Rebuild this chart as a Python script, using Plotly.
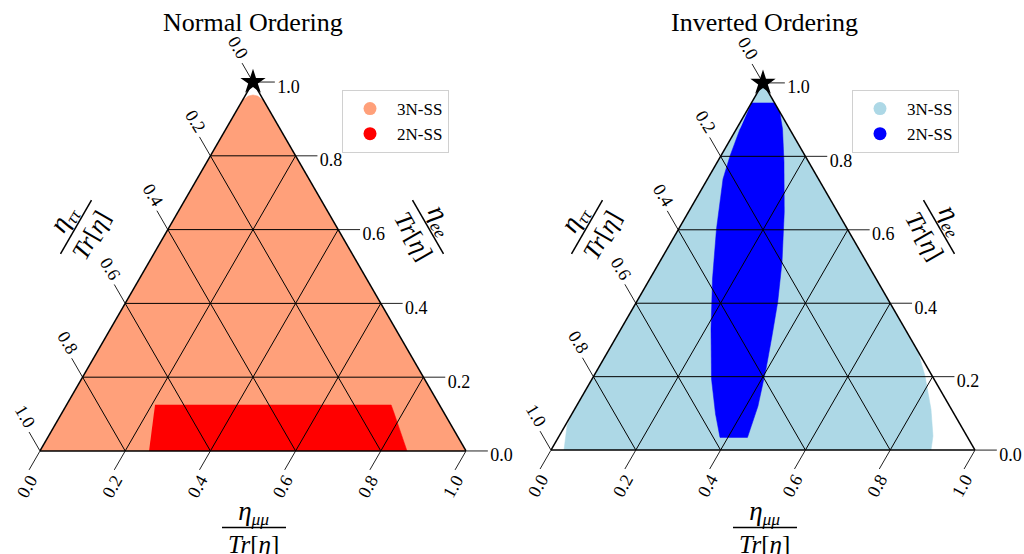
import plotly.graph_objects as go

W, H = 1024, 554
FONT = "Liberation Serif"
NB = "\u00a0"

# ---------------- data (ternary fractions) ----------------
tick_vals = [0.0, 0.2, 0.4, 0.6, 0.8, 1.0]
tick_text = ["1.0", "0.8", "0.6", "0.4", "0.2", "0.0"]
grid_vals = [0.2, 0.4, 0.6, 0.8]

# Normal ordering: eta_ee and eta_mumu fractions of the region boundaries
no_3n_ee = [0.0, 0.0, 0.95, 0.962, 0.965, 0.962, 0.95]
no_3n_mm = [0.0, 1.0, 0.05, 0.030, 0.0175, 0.008, 0.0]
no_2n_ee = [0.0, 0.0, 0.105, 0.1247, 0.1247]
no_2n_mm = [0.256, 0.8615, 0.778, 0.762, 0.2076]

# Inverted ordering
io_3n_ee = [1.0, 0.2698, 0.2016, 0.1117, 0.0381, 0.0, 0.0, 0.0654, 0.1035]
io_3n_mm = [0.0, 0.7302, 0.7813, 0.8403, 0.8818, 0.8962, 0.0307, 0.005, 0.0]
io_2n_ee = [0.9455, 0.9455, 0.921, 0.8747, 0.7847, 0.6485, 0.5123, 0.4033, 0.3106,
            0.2207, 0.1199, 0.0572, 0.0346, 0.0346, 0.0981, 0.1935, 0.3297, 0.466,
            0.6022, 0.7384, 0.8011, 0.8747]
io_2n_mm = [0.0, 0.0545, 0.079, 0.1087, 0.1571, 0.2259, 0.2887, 0.3331, 0.3659,
            0.3967, 0.4282, 0.4414, 0.4461, 0.3813, 0.339, 0.2818, 0.2125, 0.1479,
            0.0892, 0.0365, 0.0217, 0.0085]

star_ee, star_tt, star_mm = [1.0], [0.0], [0.0]

series_names = ["3N-SS", "2N-SS"]
no_colors = ["#FFA07A", "#FF0000"]
io_colors = ["#ADD8E6", "#0000FF"]
titles = ["Normal Ordering", "Inverted Ordering"]


def tau(ee, mm):
    return [max(0.0, round(1.0 - e - m, 4)) for e, m in zip(ee, mm)]


def grid_trace(subplot):
    a, b, c = [], [], []
    for v in grid_vals:
        a += [v, v, None]; b += [1 - v, 0, None]; c += [0, 1 - v, None]
        a += [1 - v, 0, None]; b += [v, v, None]; c += [0, 1 - v, None]
        a += [1 - v, 0, None]; b += [0, 1 - v, None]; c += [v, v, None]
    return go.Scatterternary(a=a, b=b, c=c, mode="lines", subplot=subplot,
                             line=dict(color="black", width=1), showlegend=False,
                             hoverinfo="skip")


def tick_marks(subplot):
    # short marks on each edge, continuing the grid-line direction outwards
    # (standoff pushes the mark opposite to its angle)
    a, b, c, ang = [], [], [], []
    for v in tick_vals:
        # right edge (eta_ee = v): horizontal, to the right
        a.append(v); b.append(0.0); c.append(1.0 - v); ang.append(270)
        # bottom edge (eta_mumu = v): down-left
        a.append(0.0); b.append(1.0 - v); c.append(v); ang.append(30)
        # left edge (eta_tautau = v): up-left
        a.append(1.0 - v); b.append(v); c.append(0.0); ang.append(150)
    return go.Scatterternary(a=a, b=b, c=c, mode="markers", subplot=subplot,
                             marker=dict(symbol="line-ns", size=15.5, angle=ang,
                                         standoff=11, color="#222222",
                                         line=dict(color="#222222", width=1)),
                             cliponaxis=False, showlegend=False, hoverinfo="skip")


def region(ee, mm, color, subplot):
    return go.Scatterternary(a=ee, b=tau(ee, mm), c=mm, mode="lines", fill="toself",
                             fillcolor=color, line=dict(color=color, width=0.5),
                             subplot=subplot, showlegend=False, hoverinfo="skip")


fig = go.Figure()
panels = [
    ("ternary", "legend", [(no_3n_ee, no_3n_mm), (no_2n_ee, no_2n_mm)], no_colors),
    ("ternary2", "legend2", [(io_3n_ee, io_3n_mm), (io_2n_ee, io_2n_mm)], io_colors),
]
for subplot, leg, regs, cols in panels:
    for (ee, mm), col in zip(regs, cols):
        fig.add_trace(region(ee, mm, col, subplot))
    fig.add_trace(grid_trace(subplot))
    fig.add_trace(tick_marks(subplot))
    fig.add_trace(go.Scatterternary(a=star_ee, b=star_tt, c=star_mm, mode="markers",
                                    marker=dict(symbol="star", size=19, color="black"),
                                    cliponaxis=False, subplot=subplot, showlegend=False,
                                    hoverinfo="skip"))
    for name, col in zip(series_names, cols):
        fig.add_trace(go.Scatterternary(a=[None], b=[None], c=[None], mode="markers",
                                        marker=dict(color=col, size=13, symbol="circle"),
                                        name=name, subplot=subplot, legend=leg))


def axis(angle, ticklen, texts):
    return dict(min=0, tickmode="array", tickvals=tick_vals, ticktext=texts,
                ticks="outside", ticklen=ticklen, tickwidth=1,
                tickcolor="rgba(0,0,0,0)",
                showline=True, linecolor="black", linewidth=1.5, showgrid=False,
                layer="above traces", tickangle=angle,
                tickfont=dict(family=FONT, size=18, color="black"),
                title=dict(text=""))


a_text = [t + NB * 4 + "<br>" + NB for t in tick_text]
b_text = [t + NB * 2 + "<br>" + NB for t in tick_text]
c_text = [NB + "<br>" + NB * 4 + t for t in tick_text]


def px(x):
    return x / W


def py(y):
    return 1 - y / H


def tern(x0, x1):
    return dict(domain=dict(x=[px(x0), px(x1)], y=[py(451), py(82)]), sum=1,
                bgcolor="white",
                aaxis=axis(59, 4, a_text),
                baxis=axis(-61, 9, b_text),
                caxis=axis(0, 6, c_text))


ETA = "<span style='font-size:27px'><i>η</i></span>"
annotations = []
shapes = []
num_den = [
    (ETA + "<sub><i>μμ</i></sub>", 253, 527, 0, (222, 527.5, 286, 527.5)),
    (ETA + "<sub><i>ττ</i></sub>", 76, 227, -60, (60.5, 253.8, 91.5, 200.2)),
    (ETA + "<sub><i>ee</i></sub>", 428, 227, 60, (412.5, 200.2, 443.5, 253.8)),
]
for k, off in enumerate([0, 511]):
    annotations.append(dict(text=titles[k], x=px(253 + off), y=py(22), xref="paper",
                            yref="paper", showarrow=False, xanchor="center",
                            yanchor="middle",
                            font=dict(family=FONT, size=26, color="black")))
    for num, cx, cy, ang, (x0, y0, x1, y1) in num_den:
        annotations.append(dict(text=num + "<br><i>Tr</i>[<i>η</i>]", x=px(cx + off),
                                y=py(cy), xref="paper", yref="paper", showarrow=False,
                                textangle=ang, xanchor="center", yanchor="middle",
                                font=dict(family=FONT, size=25, color="black")))
        shapes.append(dict(type="line", xref="paper", yref="paper",
                           x0=px(x0 + off), y0=py(y0), x1=px(x1 + off), y1=py(y1),
                           line=dict(color="black", width=1.5)))


def legend_cfg(x):
    return dict(x=px(x), y=py(90), xanchor="left", yanchor="top", bgcolor="white",
                bordercolor="#d0d0d0", borderwidth=1, itemwidth=44,
                font=dict(family=FONT, size=17, color="black"))


fig.update_layout(
    width=W, height=H, margin=dict(l=0, r=0, t=0, b=0),
    paper_bgcolor="white", plot_bgcolor="white",
    ternary=tern(40, 466), ternary2=tern(551, 975),
    legend=legend_cfg(342), legend2=legend_cfg(852),
    annotations=annotations, shapes=shapes,
)

fig.write_html("out.html", config={"displayModeBar": False},
               post_script="document.body.style.margin='0';")
